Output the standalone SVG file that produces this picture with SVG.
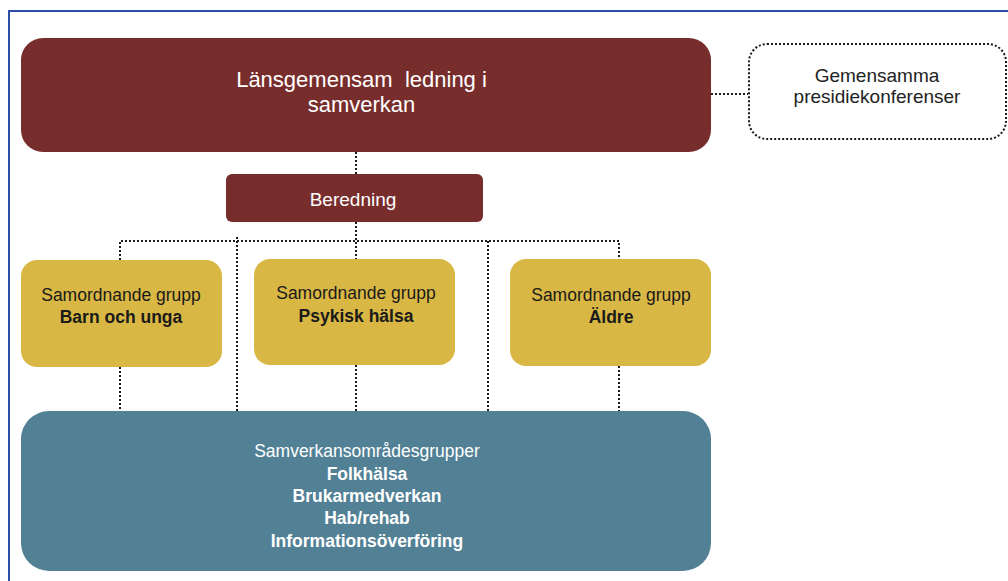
<svg xmlns="http://www.w3.org/2000/svg" width="1008" height="581" viewBox="0 0 1008 581">
<style>
.t{font-family:"Liberation Sans",Arial,sans-serif;text-anchor:middle}
.w{fill:#ffffff}
.d{fill:#1a1a1a}
.b{font-weight:bold}
.dot{fill:none;stroke:#1a1a1a;stroke-width:2;stroke-dasharray:2 2}
</style>
<rect width="1008" height="581" fill="#ffffff"/>
<path d="M1008 11 H9 V581" fill="none" stroke="#2b4fa6" stroke-width="2"/>
<g id="connectors">
<path class="dot" d="M711 94 H748"/>
<path class="dot" d="M356 152 V174"/>
<path class="dot" d="M356 222 V259"/>
<path class="dot" d="M120 260 V241 H619 V259"/>
<path class="dot" d="M237 237 V411"/>
<path class="dot" d="M488 241 V411"/>
<path class="dot" d="M120 367 V411"/>
<path class="dot" d="M356 365 V411"/>
<path class="dot" d="M619 366 V411"/>
</g>
<g id="lansgemensam">
<rect x="21" y="38" width="690" height="114" rx="22" fill="#782d2d"/>
<text class="t w" x="361.5" y="87" font-size="22" xml:space="preserve">Länsgemensam  ledning i</text>
<text class="t w" x="361.5" y="112" font-size="22">samverkan</text>
</g>
<g id="presidie">
<rect x="749" y="44" width="257" height="95" rx="18" fill="#ffffff" stroke="#1a1a1a" stroke-width="2" stroke-dasharray="2 2"/>
<text class="t" x="877" y="82" font-size="19" fill="#222">Gemensamma</text>
<text class="t" x="877" y="103" font-size="19" fill="#222">presidiekonferenser</text>
</g>
<g id="beredning">
<rect x="226" y="174" width="257" height="48" rx="6" fill="#782d2d"/>
<text class="t w" x="353" y="206" font-size="19">Beredning</text>
</g>
<g id="barn">
<rect x="21" y="260" width="201" height="107" rx="16" fill="#d9b744"/>
<text class="t d" x="121" y="301" font-size="17.5">Samordnande grupp</text>
<text class="t d b" x="121" y="323" font-size="17.5">Barn och unga</text>
</g>
<g id="psykisk">
<rect x="254" y="259" width="201" height="106" rx="16" fill="#d9b744"/>
<text class="t d" x="356" y="299" font-size="17.5">Samordnande grupp</text>
<text class="t d b" x="356" y="322" font-size="17.5">Psykisk hälsa</text>
</g>
<g id="aldre">
<rect x="510" y="259" width="201" height="107" rx="16" fill="#d9b744"/>
<text class="t d" x="611" y="301" font-size="17.5">Samordnande grupp</text>
<text class="t d b" x="611" y="323" font-size="17.5">Äldre</text>
</g>
<g id="samverkan">
<rect x="21" y="411" width="690" height="160" rx="28" fill="#528196"/>
<text class="t w" x="367" y="457" font-size="17.5">Samverkansområdesgrupper</text>
<text class="t w b" x="367" y="480" font-size="17.5">Folkhälsa</text>
<text class="t w b" x="367" y="502" font-size="17.5">Brukarmedverkan</text>
<text class="t w b" x="367" y="524" font-size="17.5">Hab/rehab</text>
<text class="t w b" x="367" y="547" font-size="17.5">Informationsöverföring</text>
</g>
</svg>
